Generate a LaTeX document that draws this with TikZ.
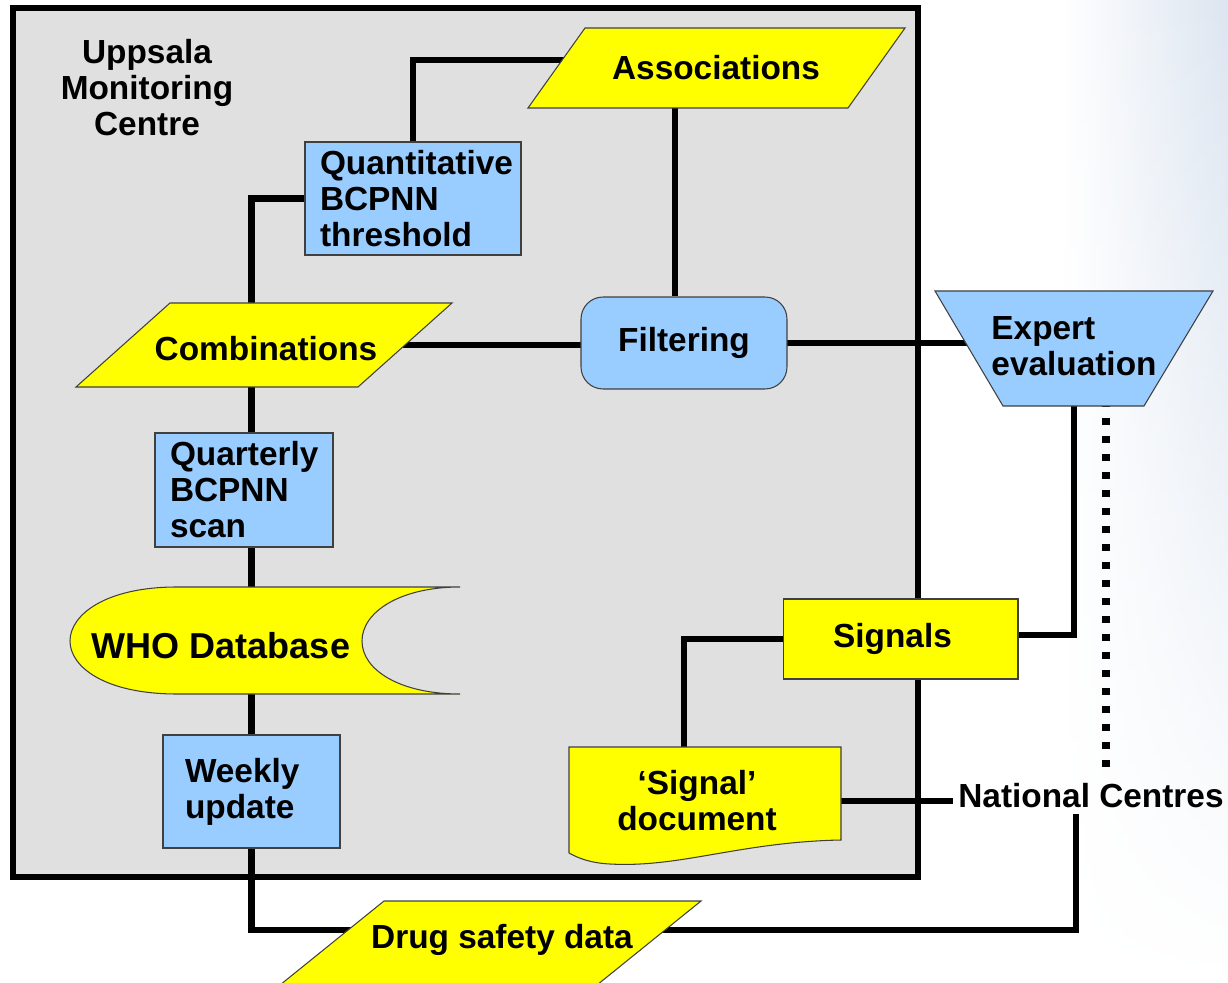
\documentclass[tikz,border=0pt]{standalone}
\usepackage{fontspec}
\setmainfont{Liberation Sans}
\usetikzlibrary{backgrounds,fadings}
\definecolor{umcgrey}{RGB}{224,224,224}
\definecolor{procblue}{RGB}{153,204,255}
\definecolor{datayellow}{RGB}{255,255,0}
\definecolor{bgblue}{RGB}{220,229,240}
\newcommand\umcfont{\bfseries\fontsize{19}{20.5}\selectfont}
\tikzfading[name=fadedown, top color=transparent!0, bottom color=transparent!100]

\begin{document}
\begin{tikzpicture}[x=0.02cm, y=-0.02cm,
  proc/.style={draw=black!75, fill=procblue, line width=0.6pt, font=\umcfont, align=left, inner xsep=0.3cm, inner ysep=0pt},
  data/.style={draw=black!75, fill=datayellow, line width=0.6pt},
  lbl/.style={font=\umcfont, align=center, inner sep=0.1cm},
  link/.style={line width=0.13cm},
  dotlink/.style={line width=0.16cm, dash pattern=on 0.15cm off 0.21cm}]

\clip (0,0) rectangle (1228,983);

% Backdrop and UMC box
\begin{scope}[on background layer]
\shade[left color=white, right color=bgblue, path fading=fadedown] (1060,0) rectangle (1228,983);
\draw[line width=0.12cm, fill=umcgrey] (13,8) rectangle (918,877);
\end{scope}

\node[lbl] (umc) at (147,88) {Uppsala\\Monitoring\\Centre};

% Data shapes
\filldraw[data] (585,28) -- (905,28) -- (848,108) -- (528,108) -- cycle;
\node[lbl] (assoc) at (716,68) {Associations};

\filldraw[data] (170,303) -- (452,303) -- (358,387) -- (76,387) -- cycle;
\node[lbl] (comb) at (266,349) {Combinations};

\filldraw[data] (384,901) -- (701,901) -- (597,985) -- (280,985) -- cycle;
\node[lbl] (drug) at (502,940) {Drug safety data};

% WHO Database
\filldraw[data] (177,587) .. controls (105,587) and (70,615) .. (70,641)
  .. controls (70,667) and (105,694) .. (177,694) -- (460,694)
  .. controls (400,694) and (362,670) .. (362,641)
  .. controls (362,612) and (400,587) .. (460,587) -- cycle;
\node[font=\bfseries\fontsize{20.5}{23}\selectfont] (who) at (221,646) {WHO Database};

% Signal document
\filldraw[data] (569,853) -- (569,747) -- (841,747) -- (841,840)
  .. controls (740,842) and (680,868) .. (610,864)
  .. controls (590,863) and (578,858) .. (569,853);
\node[lbl] (sigdoc) at (697,801) {‘Signal’\\document};

% Process boxes
\node[proc, text width=3.72cm, minimum height=2.26cm] (quant) at (413,198.5) {Quantitative\\BCPNN\\threshold};
\node[proc, text width=2.96cm, minimum height=2.28cm] (quarter) at (244,490) {Quarterly\\BCPNN\\scan};
\node[proc, inner xsep=0.44cm, text width=2.66cm, minimum height=2.26cm] (weekly) at (251.5,791.5) {Weekly\\update};
\node[proc, align=center, rounded corners=0.44cm, minimum width=4.12cm, minimum height=1.84cm] (filt) at (684,343) {Filtering};

% Expert evaluation
\filldraw[proc] (935,291) -- (1213,291) -- (1144,406) -- (1003,406) -- cycle;
\node[lbl, align=left] (expert) at (1074,346) {Expert\\evaluation};

\node[data, font=\umcfont, minimum width=4.7cm, minimum height=1.6cm] (signals) at (900.5,639) {\hspace*{-0.32cm}Signals};
\node[lbl] (natl) at (1091,796) {National Centres};

% Connectors
\begin{scope}[on background layer]
\draw[link] (quant.north) |- ([yshift=0.16cm]assoc.center);
\draw[link] ([xshift=-0.18cm]filt.north) -- ([xshift=-0.18cm]filt.north |- assoc.center);
\draw[link] (quant.west) -| (weekly.north);
\draw[link] (weekly.south) |- ([yshift=0.2cm]drug.center);
\draw[link] ([yshift=0.08cm]comb.center) -- ([yshift=0.08cm]comb.center -| filt.center);
\draw[link] (filt.center) -- (filt.center -| expert.center);
\draw[link] (expert.center) |- ([yshift=0.08cm]signals.center);
\draw[dotlink] ([xshift=0.64cm]expert.center) -- ([xshift=0.64cm,yshift=0.16cm]expert.center |- natl.north);
\draw[link] (signals.west) -| ([xshift=-0.26cm]sigdoc.center);
\draw[link] (sigdoc.center) -- (sigdoc.center -| natl.west);
\draw[link] ([xshift=-0.3cm]natl.south) |- ([yshift=0.2cm]drug.center);
\end{scope}

\end{tikzpicture}
\end{document}
